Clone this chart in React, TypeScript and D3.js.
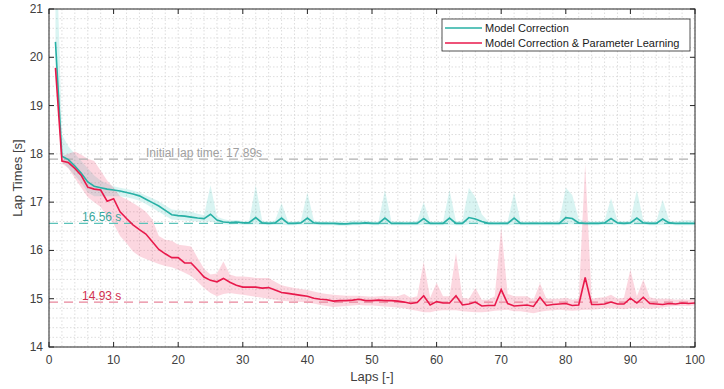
import React from "react";
import * as d3 from "d3";

// lap times per lap (1..100), mean and band edges
const tealMean = [
  20.32, 17.95, 17.88, 17.75, 17.6, 17.42, 17.33, 17.3, 17.27, 17.25,
  17.23, 17.2, 17.17, 17.13, 17.06, 16.99, 16.92, 16.83, 16.74, 16.72,
  16.71, 16.69, 16.67, 16.66, 16.75, 16.63, 16.59, 16.58, 16.59, 16.57,
  16.58, 16.68, 16.57, 16.56, 16.57, 16.67, 16.56, 16.56, 16.57, 16.67,
  16.57, 16.56, 16.56, 16.56, 16.55, 16.55, 16.56, 16.56, 16.57, 16.56,
  16.56, 16.67, 16.56, 16.56, 16.56, 16.56, 16.56, 16.66, 16.56, 16.56,
  16.56, 16.67, 16.56, 16.56, 16.68, 16.65, 16.6, 16.56, 16.56, 16.56,
  16.56, 16.67, 16.56, 16.56, 16.56, 16.56, 16.56, 16.56, 16.56, 16.68,
  16.66, 16.57, 16.56, 16.56, 16.56, 16.57, 16.66, 16.57, 16.56, 16.57,
  16.67, 16.57, 16.56, 16.56, 16.65, 16.57, 16.56, 16.56, 16.56, 16.56,
];
const tealUpper = [
  23.0, 18.4, 18.15, 18.0, 17.85, 17.7, 17.55, 17.45, 17.38, 17.33,
  17.3, 17.27, 17.24, 17.2, 17.14, 17.08, 17.02, 16.93, 16.85, 16.83,
  16.82, 16.8, 16.76, 16.73, 17.35, 16.7, 16.65, 16.62, 16.63, 16.61,
  16.62, 17.35, 16.62, 16.6, 16.62, 16.98, 16.6, 16.6, 16.62, 17.2,
  16.62, 16.6, 16.6, 16.6, 16.6, 16.6, 16.62, 16.62, 16.62, 16.6,
  16.6, 17.25, 16.61, 16.6, 16.6, 16.6, 16.61, 17.0, 16.6, 16.6,
  16.6, 17.25, 16.6, 16.62, 17.3, 17.1, 16.75, 16.6, 16.6, 16.6,
  16.6, 17.2, 16.6, 16.6, 16.6, 16.6, 16.6, 16.6, 16.62, 17.3,
  17.15, 16.65, 16.6, 16.6, 16.6, 16.62, 17.08, 16.62, 16.6, 16.62,
  17.25, 16.62, 16.6, 16.6, 17.05, 16.62, 16.6, 16.62, 16.63, 16.62,
];
const tealLower = [
  19.9, 17.85, 17.7, 17.55, 17.4, 17.2, 17.12, 17.12, 17.12, 17.12,
  17.12, 17.1, 17.07, 17.03, 16.96, 16.88, 16.8, 16.72, 16.64, 16.63,
  16.62, 16.61, 16.6, 16.6, 16.6, 16.57, 16.54, 16.53, 16.54, 16.53,
  16.53, 16.54, 16.53, 16.52, 16.53, 16.53, 16.52, 16.52, 16.53, 16.53,
  16.53, 16.52, 16.52, 16.52, 16.51, 16.51, 16.52, 16.52, 16.53, 16.52,
  16.52, 16.53, 16.52, 16.52, 16.52, 16.52, 16.52, 16.53, 16.52, 16.52,
  16.52, 16.53, 16.52, 16.52, 16.54, 16.54, 16.53, 16.52, 16.52, 16.52,
  16.52, 16.53, 16.52, 16.52, 16.52, 16.52, 16.52, 16.52, 16.52, 16.54,
  16.54, 16.53, 16.52, 16.52, 16.52, 16.53, 16.53, 16.53, 16.52, 16.53,
  16.53, 16.53, 16.52, 16.52, 16.53, 16.53, 16.52, 16.52, 16.52, 16.52,
];

const redMean = [
  19.78, 17.85, 17.82, 17.7, 17.55, 17.31, 17.27, 17.25, 17.02, 17.07,
  16.8, 16.66, 16.53, 16.43, 16.34, 16.18, 16.02, 15.93, 15.85, 15.85,
  15.74, 15.74, 15.6, 15.45, 15.38, 15.35, 15.42, 15.34, 15.28, 15.24,
  15.24, 15.24, 15.22, 15.23, 15.18, 15.13, 15.11, 15.09, 15.07, 15.05,
  15.01, 14.99, 14.98, 14.95, 14.96, 14.96, 14.97, 14.99, 14.96, 14.96,
  14.97, 14.96, 14.96, 14.95, 14.93, 14.9, 14.92, 15.06, 14.87, 14.94,
  14.91, 14.91, 15.06, 14.87, 14.89, 14.93, 14.85, 14.86, 14.86, 15.19,
  14.9, 14.85, 14.86, 14.87, 14.84, 15.03, 14.86, 14.88, 14.89, 14.9,
  14.86, 14.87, 15.44, 14.88, 14.88, 14.89, 14.93, 14.89, 14.89, 15.01,
  14.91, 15.03, 14.9, 14.89, 14.88, 14.9, 14.89, 14.91, 14.9, 14.91,
];
const redUpper = [
  19.9, 17.95, 18.0, 18.05, 17.98, 17.9, 17.85, 17.65, 17.45, 17.3,
  17.12, 17.06, 16.98, 16.9, 16.8, 16.64, 16.3, 16.22, 16.2, 16.12,
  16.1, 16.08, 15.85, 15.62, 15.5, 15.52, 15.77, 15.5, 15.46, 15.46,
  15.45, 15.43, 15.43, 15.43, 15.35, 15.28, 15.25, 15.22, 15.2, 15.18,
  15.15, 15.12, 15.1, 15.08, 15.07, 15.06, 15.06, 15.06, 15.05, 15.04,
  15.05, 15.06, 15.05, 15.05, 15.1, 15.02, 15.05, 15.76, 15.02, 15.33,
  15.05, 15.05, 15.95, 15.02, 15.0, 15.22, 14.98, 14.98, 15.05, 16.48,
  15.1, 15.05, 15.05, 15.05, 14.98, 15.32, 15.0, 15.0, 15.0, 15.02,
  14.98, 15.0, 17.8, 15.0, 15.02, 15.03, 15.08, 15.0, 15.02, 15.6,
  15.05, 15.4, 15.03, 15.0, 15.0, 15.0, 14.98, 14.99, 14.98, 14.98,
];
const redLower = [
  19.7, 17.8, 17.7, 17.5, 17.3, 17.1, 17.0, 16.9, 16.7, 16.55,
  16.3, 16.15, 15.98, 15.88, 15.82, 15.77, 15.72, 15.68, 15.65, 15.6,
  15.54, 15.47, 15.35, 15.22, 15.12, 15.05, 15.1, 15.12, 15.1, 15.08,
  15.06, 15.04, 15.02, 15.0, 14.98, 14.96, 14.95, 14.94, 14.93, 14.92,
  14.9, 14.87, 14.85, 14.83, 14.84, 14.85, 14.86, 14.87, 14.86, 14.86,
  14.85, 14.84, 14.83, 14.82, 14.8, 14.77, 14.75, 14.72, 14.72, 14.75,
  14.76, 14.76, 14.76, 14.74, 14.73, 14.72, 14.72, 14.73, 14.75, 14.76,
  14.77, 14.74, 14.74, 14.72, 14.7, 14.73, 14.75, 14.76, 14.77, 14.76,
  14.75, 14.76, 14.77, 14.77, 14.78, 14.8, 14.8, 14.79, 14.78, 14.8,
  14.8, 14.8, 14.79, 14.8, 14.82, 14.84, 14.85, 14.85, 14.85, 14.86,
];

const initialLapTime = 17.89;
const tealFinal = 16.56;
const redFinal = 14.93;

const xTicks = [0, 10, 20, 30, 40, 50, 60, 70, 80, 90, 100];
const yTicks = [14, 15, 16, 17, 18, 19, 20, 21];
const seriesNames = ["Model Correction", "Model Correction & Parameter Learning"];

const W = 724;
const H = 389;
const margin = { top: 9, right: 29, bottom: 42, left: 49 };

const TEAL = "#27b0a5";
const RED = "#e8194b";
const FONT = "'Liberation Sans', Arial, Helvetica, sans-serif";

export default function App() {
  const x = d3.scaleLinear().domain([0, 100]).range([margin.left, W - margin.right]);
  const y = d3.scaleLinear().domain([14, 21]).range([H - margin.bottom, margin.top]);
  const [x0, x1] = x.range();
  const [y0, y1] = y.range();

  const laps = d3.range(1, 101);
  const line = (vals: number[]) =>
    d3.line<number>().x((_, i) => x(laps[i])).y((v) => y(v))(vals) || "";
  const band = (lo: number[], hi: number[]) =>
    d3
      .area<number>()
      .x((i) => x(laps[i]))
      .y0((i) => y(lo[i]))
      .y1((i) => y(hi[i]))(d3.range(lo.length)) || "";

  const xMinor = d3.range(0, 101, 2);
  const yMinor = d3.range(14, 21.001, 0.2);

  const dashes = [
    { v: initialLapTime, color: "#b0b0b0", label: `Initial lap time: ${initialLapTime}s`, lx: 146, lcolor: "#a0a0a0" },
    { v: tealFinal, color: "#5cc2b9", label: `${tealFinal} s`, lx: 82, lcolor: "#3aa89e" },
    { v: redFinal, color: "#e7859b", label: `${redFinal} s`, lx: 82, lcolor: "#d1304f" },
  ];

  return (
    <svg
      width={W}
      height={H}
      style={{ position: "absolute", left: 0, top: 0, background: "#fff", fontFamily: FONT }}
    >
      <defs>
        <clipPath id="plotClip">
          <rect x={x0} y={y1} width={x1 - x0} height={y0 - y1} />
        </clipPath>
      </defs>

      {/* grid */}
      <g stroke="#d4d4d4" strokeWidth={0.8} strokeDasharray="1.5,2">
        {xMinor.map((t) => (
          <line key={"gx" + t} x1={x(t)} x2={x(t)} y1={y1} y2={y0} />
        ))}
        {yMinor.map((t, i) => (
          <line key={"gy" + i} x1={x0} x2={x1} y1={y(t)} y2={y(t)} />
        ))}
      </g>

      <g clipPath="url(#plotClip)">
        <path d={band(tealLower, tealUpper)} fill="#2ec4b6" fillOpacity={0.18} />
        <path d={band(redLower, redUpper)} fill="#f04a70" fillOpacity={0.22} />

        {dashes.map((d) => (
          <line
            key={d.label}
            x1={x0}
            x2={x1}
            y1={y(d.v)}
            y2={y(d.v)}
            stroke={d.color}
            strokeWidth={1.2}
            strokeDasharray="9,6"
          />
        ))}

        <path d={line(tealMean)} fill="none" stroke={TEAL} strokeWidth={1.6} />
        <path d={line(redMean)} fill="none" stroke={RED} strokeWidth={1.6} />
      </g>

      {dashes.map((d) => (
        <text key={"t" + d.label} x={d.lx} y={y(d.v) - 2} fontSize={12} fill={d.lcolor}>
          {d.label}
        </text>
      ))}

      {/* axes box */}
      <rect x={x0} y={y1} width={x1 - x0} height={y0 - y1} fill="none" stroke="#262626" strokeWidth={1} />
      <g stroke="#262626" strokeWidth={1}>
        {xTicks.map((t) => (
          <g key={"xt" + t}>
            <line x1={x(t)} x2={x(t)} y1={y0} y2={y0 - 5} />
            <line x1={x(t)} x2={x(t)} y1={y1} y2={y1 + 5} />
          </g>
        ))}
        {yTicks.map((t) => (
          <g key={"yt" + t}>
            <line x1={x0} x2={x0 + 5} y1={y(t)} y2={y(t)} />
            <line x1={x1} x2={x1 - 5} y1={y(t)} y2={y(t)} />
          </g>
        ))}
      </g>
      <g fontSize={12} fill="#404040">
        {xTicks.map((t) => (
          <text key={"xl" + t} x={x(t)} y={y0 + 17} textAnchor="middle">
            {t}
          </text>
        ))}
        {yTicks.map((t) => (
          <text key={"yl" + t} x={x0 - 6} y={y(t) + 4} textAnchor="end">
            {t}
          </text>
        ))}
      </g>
      <text x={(x0 + x1) / 2} y={y0 + 34} textAnchor="middle" fontSize={13} fill="#404040">
        Laps [-]
      </text>
      <text
        transform={`translate(22,${(y0 + y1) / 2}) rotate(-90)`}
        textAnchor="middle"
        fontSize={13}
        fill="#404040"
      >
        Lap Times [s]
      </text>

      {/* legend */}
      <g>
        <rect x={442} y={19} width={248} height={32} fill="#fff" stroke="#262626" strokeWidth={0.8} />
        {seriesNames.map((name, i) => (
          <g key={name}>
            <line
              x1={445}
              x2={482}
              y1={28 + i * 15}
              y2={28 + i * 15}
              stroke={i === 0 ? TEAL : RED}
              strokeWidth={1.6}
            />
            <text x={485} y={32 + i * 15} fontSize={11} fill="#1a1a1a">
              {name}
            </text>
          </g>
        ))}
      </g>
    </svg>
  );
}
